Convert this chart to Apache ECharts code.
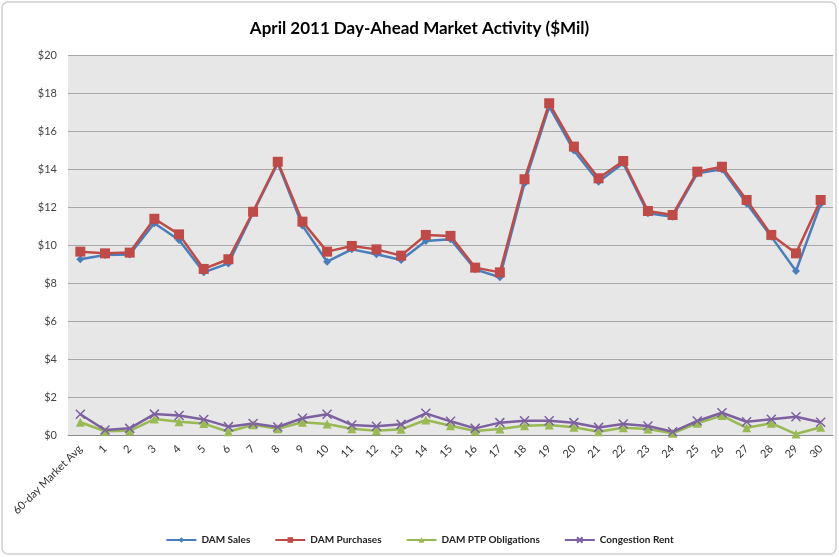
<!DOCTYPE html>
<html>
<head>
<meta charset="utf-8">
<script src="https://cdn.jsdelivr.net/npm/echarts@6/dist/echarts.min.js"></script>
<style>
html,body{margin:0;padding:0;background:#fff;}
#c{width:839px;height:557px;}
</style>
</head>
<body>
<div id="c"></div>
<script>
var categories = ['60-day Market Avg','1','2','3','4','5','6','7','8','9','10','11','12','13','14','15','16','17','18','19','20','21','22','23','24','25','26','27','28','29','30'];
var damSales = [9.25,9.47,9.5,11.14,10.26,8.56,9.03,11.7,14.3,11.02,9.12,9.77,9.51,9.21,10.21,10.3,8.72,8.3,13.25,17.28,14.97,13.33,14.3,11.67,11.49,13.77,13.98,12.19,10.44,8.63,12.16];
var damPurchases = [9.65,9.56,9.6,11.38,10.56,8.74,9.25,11.75,14.38,11.23,9.65,9.95,9.77,9.44,10.53,10.48,8.81,8.56,13.46,17.46,15.18,13.51,14.42,11.79,11.58,13.86,14.12,12.37,10.53,9.56,12.37];
var ptpObligations = [0.67,0.2,0.22,0.84,0.7,0.6,0.17,0.54,0.33,0.67,0.58,0.33,0.23,0.3,0.79,0.49,0.21,0.32,0.49,0.53,0.41,0.17,0.38,0.32,0.09,0.62,1.02,0.38,0.62,0.05,0.41];
var congestionRent = [1.09,0.26,0.35,1.1,1.03,0.82,0.44,0.61,0.42,0.88,1.09,0.53,0.46,0.56,1.14,0.72,0.35,0.65,0.75,0.75,0.65,0.4,0.58,0.47,0.17,0.74,1.17,0.7,0.83,0.96,0.67];
var seriesNames = ['DAM Sales','DAM Purchases','DAM PTP Obligations','Congestion Rent'];

var FONT = 'Lato, "Open Sans", sans-serif';
var chart = echarts.init(document.getElementById('c'), null, {renderer:'canvas'});
var xSym = 'path://M0,0L10,10M10,0L0,10';
function mk(name, data, color, symbol, size, extra){
  return {
    name: name, type: 'line', data: data,
    symbol: symbol, symbolSize: size,
    lineStyle: {color: color, width: 2.5},
    itemStyle: Object.assign({color: color}, extra || {}),
    emphasis: {disabled: true},
    animation: false
  };
}
chart.setOption({
  animation: false,
  textStyle: {fontFamily: FONT},
  title: {
    text: 'April 2011 Day-Ahead Market Activity ($Mil)',
    left: 'center', top: 15,
    textStyle: {fontFamily: FONT, fontSize: 17, fontWeight: 'bold', color: '#000'}
  },
  graphic: [{
    type: 'rect', silent: true, z: -10,
    shape: {x: 2, y: 2, width: 834, height: 552, r: 6},
    style: {fill: 'none', stroke: '#d0d0d0', lineWidth: 1.5}
  }],
  legend: {
    bottom: 7, left: 'center',
    itemWidth: 30, itemHeight: 7, itemGap: 24,
    textStyle: {fontFamily: FONT, fontSize: 10, fontWeight: 'bold', color: '#222'},
    data: seriesNames
  },
  grid: {
    left: 68, right: 6, top: 55, bottom: 122,
    show: true, backgroundColor: '#e7e7e7', borderWidth: 0
  },
  xAxis: {
    type: 'category', data: categories, boundaryGap: true,
    axisLine: {lineStyle: {color: '#8c8c8c', width: 1}},
    axisTick: {show: false},
    axisLabel: {rotate: 45, interval: 0, fontFamily: FONT, fontSize: 11, color: '#333', margin: 12}
  },
  yAxis: {
    type: 'value', min: 0, max: 20, interval: 2,
    axisLine: {show: false}, axisTick: {show: false},
    axisLabel: {formatter: function(v){return '$' + v;}, fontFamily: FONT, fontSize: 11, color: '#444', margin: 11},
    splitLine: {lineStyle: {color: '#a8a8a8', width: 1.2}}
  },
  series: [
    mk(seriesNames[0], damSales, '#4a7ebb', 'diamond', 8),
    mk(seriesNames[1], damPurchases, '#be4b48', 'rect', 10),
    mk(seriesNames[2], ptpObligations, '#98b954', 'triangle', 9),
    mk(seriesNames[3], congestionRent, '#7d60a0', xSym, 9, {borderColor: '#7d60a0', borderWidth: 1.5})
  ]
});
</script>
</body>
</html>
